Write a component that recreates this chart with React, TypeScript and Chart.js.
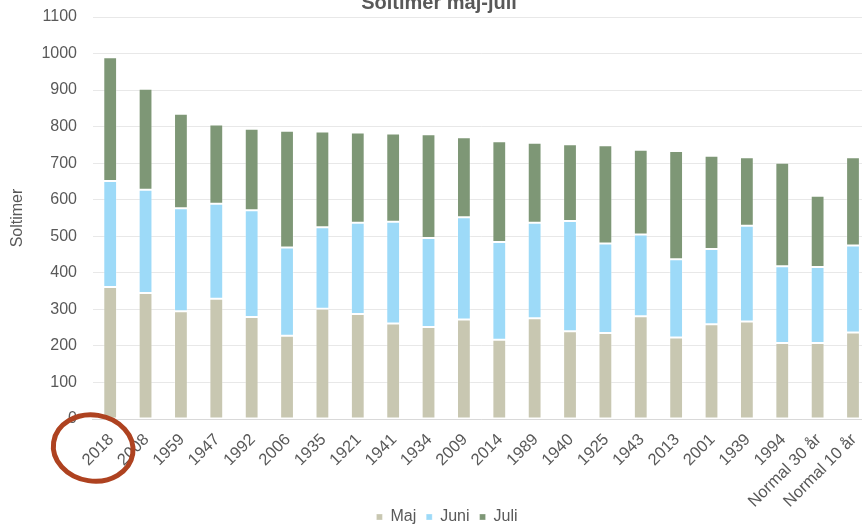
import React, { useEffect, useRef } from "react";
import { Chart, registerables } from "chart.js";

Chart.register(...registerables);

const categories = [
  "2018", "2008", "1959", "1947", "1992", "2006", "1935", "1921", "1941", "1934", "2009",
  "2014", "1989", "1940", "1925", "1943", "2013", "2001", "1939", "1994", "Normal 30 år", "Normal 10 år",
];
const majValues = [361, 345, 295, 329, 279, 228, 302, 287, 261, 252, 272, 217, 276, 240, 235, 281, 223, 259, 267, 208, 208, 237];
const juniValues = [290, 282, 282, 260, 292, 241, 223, 250, 279, 243, 280, 267, 261, 302, 245, 224, 214, 206, 262, 210, 208, 238];
const juliValues = [339, 277, 258, 217, 223, 320, 262, 247, 241, 284, 219, 276, 219, 210, 269, 232, 296, 255, 187, 283, 195, 241];
const seriesNames = ["Maj", "Juni", "Juli"];
const titleText = "Soltimer maj-juli";
const yAxisTitle = "Soltimer";
const yMin = 0;
const yMax = 1100;
const yStep = 100;

const CANVAS_W = 878;
const CANVAS_H = 564;
const FONT = "'Liberation Sans', Arial, Helvetica, sans-serif";
const TEXT = "#595959";

const legendShift = {
  id: "legendShift",
  afterLayout(chart: any) {
    const lg = chart.legend;
    if (lg) {
      lg.left += 8;
      lg.right += 8;
      lg.top -= 10;
      lg.bottom -= 10;
    }
  },
};

const circleMark = {
  id: "circleMark",
  afterDraw(chart: any) {
    const x = chart.scales.x;
    const ctx = chart.ctx;
    const cx = x.getPixelForValue(0) - 17;
    const cy = chart.chartArea.bottom + 29;
    ctx.save();
    ctx.beginPath();
    ctx.ellipse(cx, cy, 40, 33, 0.15, 0, Math.PI * 2);
    ctx.lineWidth = 5;
    ctx.strokeStyle = "#AE4220";
    ctx.stroke();
    ctx.restore();
  },
};

export default function App() {
  const ref = useRef<HTMLCanvasElement | null>(null);

  useEffect(() => {
    if (!ref.current) return;
    const barBorder = "rgba(255,255,255,0.3)";
    const chart = new Chart(ref.current, {
      type: "bar",
      data: {
        labels: categories,
        datasets: [
          { label: seriesNames[0], data: majValues, backgroundColor: "#C8C7B1", borderColor: barBorder, borderWidth: 1, borderSkipped: false },
          { label: seriesNames[1], data: juniValues, backgroundColor: "#9DDAF8", borderColor: barBorder, borderWidth: 1, borderSkipped: false },
          { label: seriesNames[2], data: juliValues, backgroundColor: "#7E9776", borderColor: barBorder, borderWidth: 1, borderSkipped: false },
        ],
      },
      options: {
        responsive: false,
        animation: false,
        maintainAspectRatio: false,
        layout: { padding: 0 },
        datasets: { bar: { categoryPercentage: 1, barPercentage: 0.39 } },
        plugins: {
          tooltip: { enabled: false },
          title: {
            display: true,
            text: titleText,
            color: TEXT,
            font: { family: FONT, size: 20, weight: "bold" },
            padding: { top: 10, bottom: 2 },
          },
          legend: {
            position: "bottom",
            labels: {
              color: TEXT,
              font: { family: FONT, size: 16 },
              boxWidth: 6,
              boxHeight: 6,
              padding: 10,
            },
          },
        },
        scales: {
          x: {
            stacked: true,
            grid: { display: false, drawTicks: false },
            border: { display: true, color: "#D9D9D9", width: 1 },
            ticks: {
              color: TEXT,
              font: { family: FONT, size: 16.5 },
              autoSkip: false,
              maxRotation: 45,
              minRotation: 45,
              padding: 11,
              labelOffset: 1,
            },
            afterFit: (scale: any) => {
              scale.height = 90;
            },
          },
          y: {
            stacked: true,
            min: yMin,
            max: yMax,
            grid: { color: "#E8E8E8", drawTicks: false, lineWidth: 1 },
            border: { display: false },
            ticks: {
              stepSize: yStep,
              color: TEXT,
              font: { family: FONT, size: 16 },
              padding: 15.5,
              callback: (v: any) => String(v),
            },
            title: {
              display: true,
              text: yAxisTitle,
              color: TEXT,
              font: { family: FONT, size: 16 },
              padding: { top: 8.4, bottom: 0 },
            },
            afterFit: (scale: any) => {
              scale.width = 92.5;
            },
          },
        },
      },
      plugins: [legendShift, circleMark],
    });
    return () => chart.destroy();
  }, []);

  return (
    <div style={{ position: "fixed", left: 0, top: 0, width: 862, height: 529, overflow: "hidden", background: "#fff" }}>
      <div style={{ position: "absolute", left: 0, top: -19, width: CANVAS_W, height: CANVAS_H }}>
        <canvas ref={ref} width={CANVAS_W} height={CANVAS_H} style={{ width: CANVAS_W, height: CANVAS_H, display: "block" }} />
      </div>
    </div>
  );
}
